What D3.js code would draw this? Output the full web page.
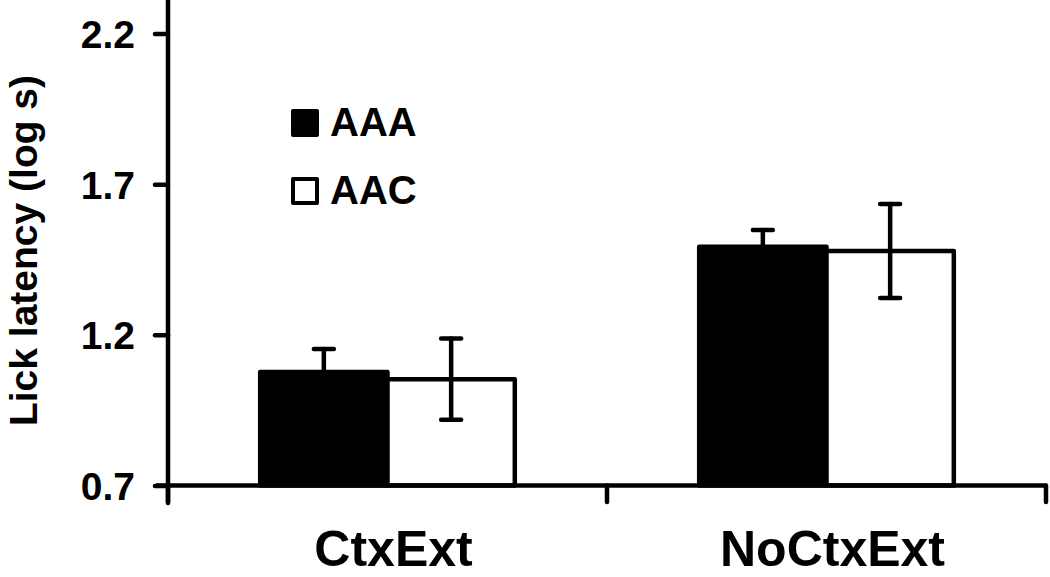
<!DOCTYPE html>
<html>
<head>
<meta charset="utf-8">
<script src="https://cdn.jsdelivr.net/npm/d3@7"></script>
<style>
    body { margin: 0; background: #fff; }
    text { font-family: Arial, "Liberation Sans", sans-serif; font-weight: bold; fill: #000; }
</style>
</head>
<body>
<svg id="chart" width="1050" height="577"></svg>
<script>
// data
const categories = ['CtxExt', 'NoCtxExt'];
const groups = ['AAA', 'AAC'];
const means = {
    AAA: [1.077, 1.492],
    AAC: [1.053, 1.478]
};
const sems = {
    AAA: [0.076, 0.056],
    AAC: [0.135, 0.156]
};
const yTicks = [0.7, 1.2, 1.7, 2.2];
const fills = { AAA: '#000', AAC: '#fff' };

const svg = d3.select('#chart');
const STROKE = 4.5;

const y = d3.scaleLinear()
    .domain([0.7, 2.2])
    .range([485.5, 33.5]);

const x0 = d3.scaleBand()
    .domain(categories)
    .range([168, 1046])
    .paddingInner(0.42)
    .paddingOuter(0.21);

const x1 = d3.scaleBand()
    .domain(groups)
    .range([0, x0.bandwidth()]);

// build one row per bar
let rows = [];
categories.forEach((c, i) => {
    groups.forEach(g => {
        rows.push({ cat: c, group: g, mean: means[g][i], sem: sems[g][i] });
    });
});

// bars
svg.append('g').selectAll('rect').data(rows).enter()
    .append('rect')
        .attr('x', d => x0(d.cat) + x1(d.group))
        .attr('y', d => y(d.mean))
        .attr('width', x1.bandwidth())
        .attr('height', d => y(0.7) - y(d.mean))
        .attr('fill', d => fills[d.group])
        .attr('stroke', '#000')
        .attr('stroke-width', STROKE)
        .attr('stroke-linejoin', 'round');

// error bars
let err = svg.append('g')
    .attr('stroke', '#000')
    .attr('stroke-width', STROKE)
    .attr('stroke-linecap', 'round')
    .selectAll('g').data(rows).enter()
    .append('g')
        .attr('transform', d => 'translate(' + (x0(d.cat) + x1(d.group) + x1.bandwidth() / 2) + ',0)');
err.append('line')
    .attr('y1', d => y(d.mean - d.sem))
    .attr('y2', d => y(d.mean + d.sem));
err.append('line')
    .attr('x1', -10).attr('x2', 10)
    .attr('y1', d => y(d.mean + d.sem))
    .attr('y2', d => y(d.mean + d.sem));
err.append('line')
    .attr('x1', -10).attr('x2', 10)
    .attr('y1', d => y(d.mean - d.sem))
    .attr('y2', d => y(d.mean - d.sem));

// y axis
let yAxis = svg.append('g')
    .attr('transform', 'translate(168,0)')
    .call(d3.axisLeft(y).tickValues(yTicks).tickFormat(d3.format('.1f')).tickSize(13).tickSizeOuter(0).tickPadding(20));
yAxis.select('.domain').remove();
yAxis.selectAll('.tick line')
    .attr('stroke', '#000')
    .attr('stroke-width', STROKE)
    .attr('stroke-linecap', 'round');
yAxis.selectAll('.tick text')
    .style('font-size', '39px')
    .attr('dy', '0.36em');
yAxis.append('line')
    .attr('y1', 0)
    .attr('y2', 503)
    .attr('stroke', '#000')
    .attr('stroke-width', STROKE)
    .attr('stroke-linecap', 'round');

// x axis
const xBase = y(0.7);
let xAxis = svg.append('g');
xAxis.append('line')
    .attr('x1', 156)
    .attr('x2', x0.range()[1])
    .attr('y1', xBase).attr('y2', xBase)
    .attr('stroke', '#000')
    .attr('stroke-width', STROKE);
let xTickPos = [x0.range()[0], x0(categories[1]) - x0.step() * x0.paddingInner() / 2, x0.range()[1]];
xAxis.selectAll('line.tick').data(xTickPos).enter()
    .append('line')
        .classed('tick', true)
        .attr('x1', d => d).attr('x2', d => d)
        .attr('y1', xBase).attr('y2', 502)
        .attr('stroke', '#000')
        .attr('stroke-width', STROKE)
        .attr('stroke-linecap', 'round');
xAxis.selectAll('text').data(categories).enter()
    .append('text')
        .attr('x', d => x0(d) + x0.bandwidth() / 2 + 6)
        .attr('y', 566)
        .attr('text-anchor', 'middle')
        .style('font-size', '50px')
        .text(d => d);

// y axis title
svg.append('text')
    .attr('transform', 'translate(37,' + (68 + 433) / 2 + ') rotate(-90)')
    .attr('text-anchor', 'middle')
    .style('font-size', '39px')
    .text('Lick latency (log s)');

// legend
let legend = svg.append('g').selectAll('g').data(groups).enter()
    .append('g')
        .attr('transform', (d, i) => 'translate(293,' + (111 + i * 68) + ')');
legend.append('rect')
    .attr('width', 24)
    .attr('height', 24)
    .attr('fill', d => fills[d])
    .attr('stroke', '#000')
    .attr('stroke-width', 4)
    .attr('stroke-linejoin', 'round');
legend.append('text')
    .attr('x', 37)
    .attr('y', 25)
    .style('font-size', '40px')
    .text(d => d);
</script>
</body>
</html>
